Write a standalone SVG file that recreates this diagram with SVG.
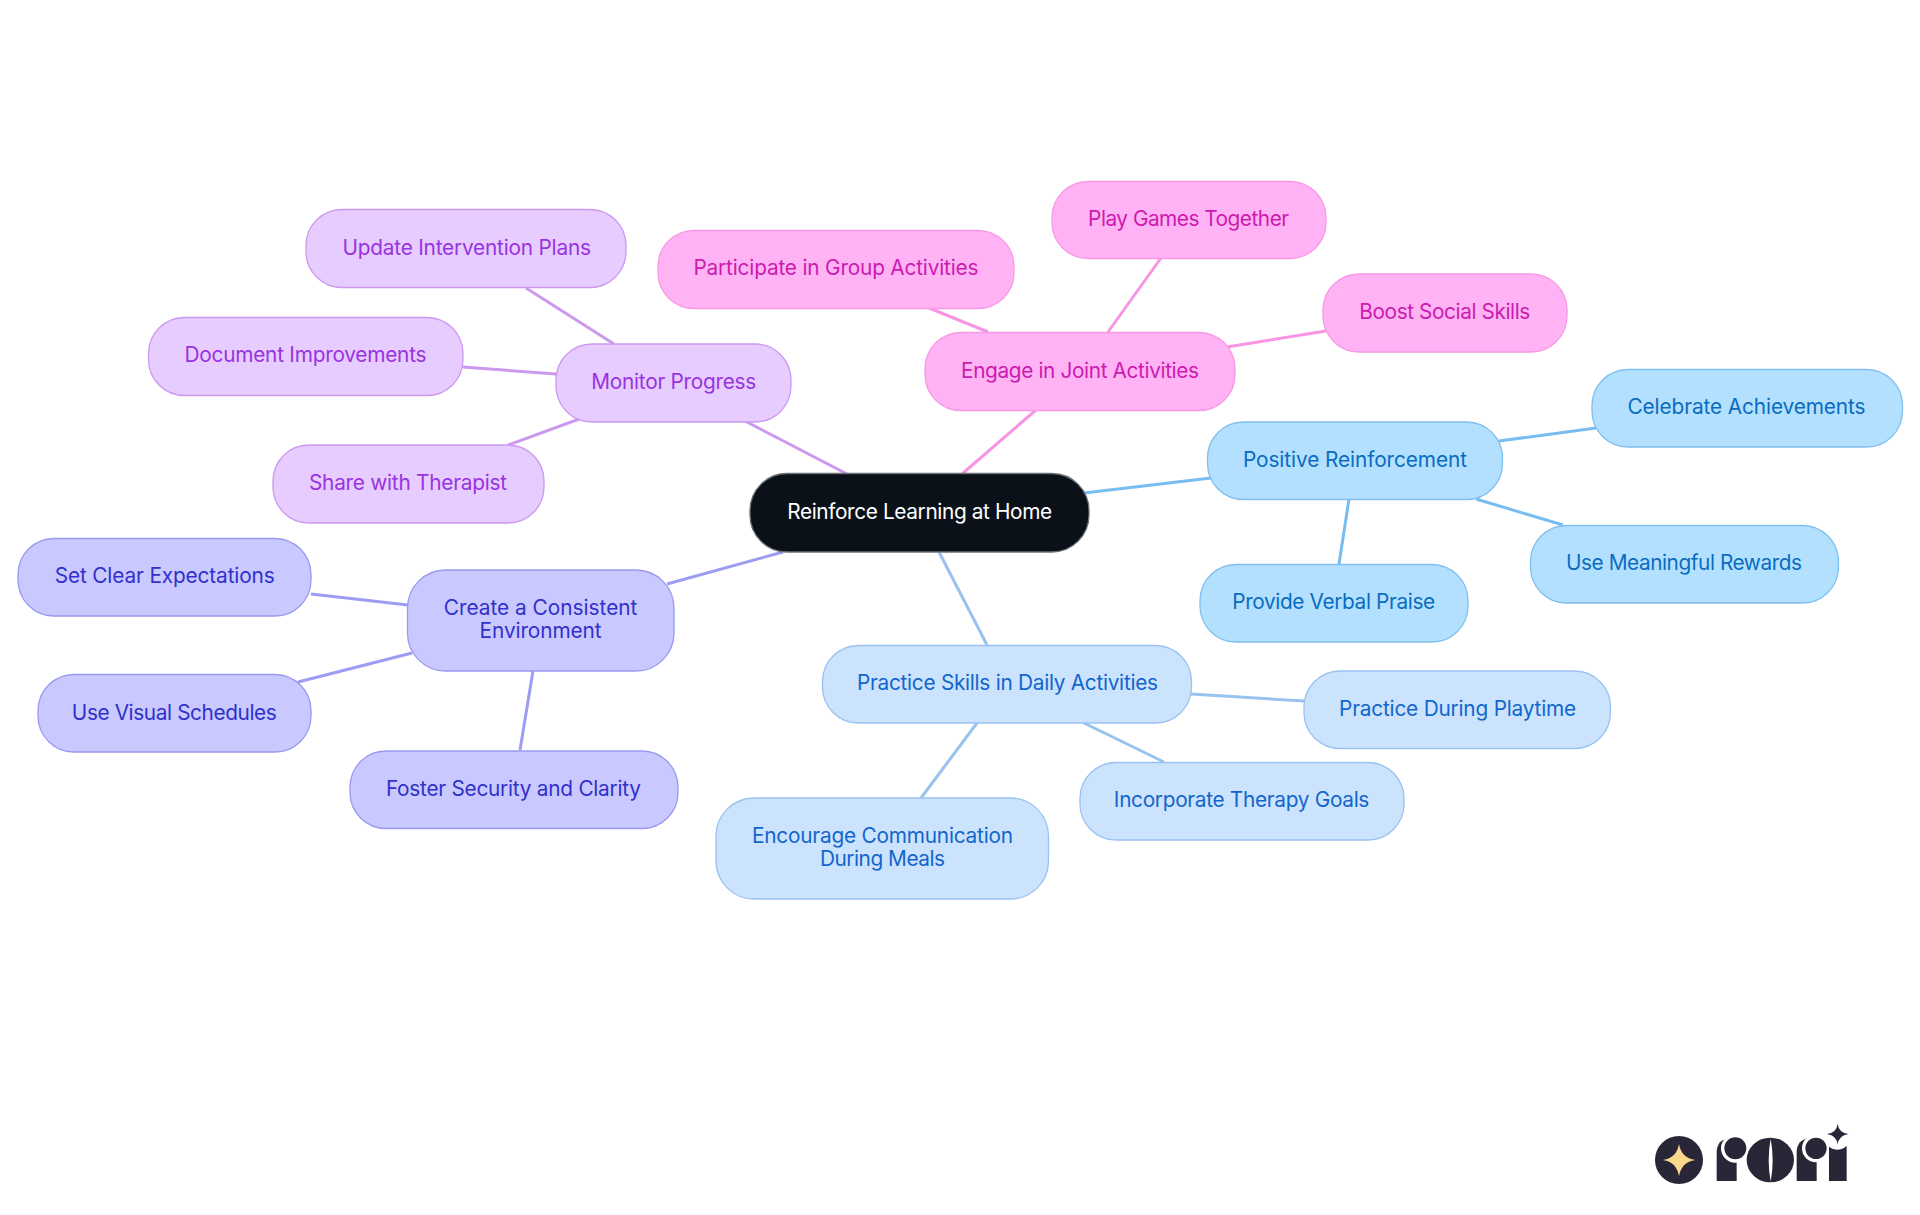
<svg xmlns="http://www.w3.org/2000/svg" width="1920" height="1215" viewBox="0 0 1920 1215">
<style>
text{font-family:"Inter","Liberation Sans",sans-serif;font-size:20.8px;text-anchor:middle}
rect{stroke-width:1.3}
#connectors line{stroke-width:3;fill:none}
.root rect{fill:#0b1119;stroke:#6d7278}.root text{fill:#fff}
.pur rect{fill:#e6ccff;stroke:#cc99ee}.pur text{fill:#9933e0}
.pnk rect{fill:#ffb3f5;stroke:#f799e6}.pnk text{fill:#cc1ab0}
.sky rect{fill:#b3e0ff;stroke:#80bfee}.sky text{fill:#0a6cbf}
.blu rect{fill:#cce3fd;stroke:#99c2f0}.blu text{fill:#1166cc}
.ind rect{fill:#c9c9ff;stroke:#9999f0}.ind text{fill:#3030cc}
.lpur{stroke:#cc99ee}.lpnk{stroke:#f794e4}.lsky{stroke:#78bcf0}.lblu{stroke:#99c2f0}.lind{stroke:#9c9cf2}
</style>
<rect width="1920" height="1215" fill="#fff" style="stroke:none"/>
<g id="connectors">
<line class="lpur" x1="847" y1="474" x2="745" y2="421"/>
<line class="lpur" x1="614" y1="344" x2="526" y2="288"/>
<line class="lpur" x1="556" y1="374" x2="463" y2="367"/>
<line class="lpur" x1="582" y1="418" x2="508" y2="445"/>
<line class="lpnk" x1="962" y1="474" x2="1036" y2="410"/>
<line class="lpnk" x1="988" y1="332" x2="929" y2="308"/>
<line class="lpnk" x1="1108" y1="332" x2="1161" y2="258"/>
<line class="lpnk" x1="1227" y1="347" x2="1326" y2="331"/>
<line class="lsky" x1="1084" y1="493" x2="1211" y2="478"/>
<line class="lsky" x1="1499" y1="441" x2="1596" y2="428"/>
<line class="lsky" x1="1476" y1="499" x2="1563" y2="525"/>
<line class="lsky" x1="1349" y1="499" x2="1339" y2="564"/>
<line class="lblu" x1="939" y1="552" x2="987" y2="645"/>
<line class="lblu" x1="1191" y1="694" x2="1304" y2="701"/>
<line class="lblu" x1="1084" y1="723" x2="1164" y2="762"/>
<line class="lblu" x1="977" y1="723" x2="921" y2="798"/>
<line class="lind" x1="783" y1="552" x2="667" y2="584"/>
<line class="lind" x1="408" y1="605" x2="311" y2="594"/>
<line class="lind" x1="412" y1="653" x2="298" y2="682"/>
<line class="lind" x1="533" y1="671" x2="520" y2="750"/>
</g>
<g id="root" class="root"><rect x="750" y="473.500" width="339" height="78.500" rx="37"/><text x="919.700" y="518.500" textLength="265">Reinforce Learning at Home</text></g>
<g id="monitor" class="pur"><rect x="556" y="344" width="235" height="78" rx="36"/><text x="673.800" y="388.500" textLength="165">Monitor Progress</text></g>
<g id="update" class="pur"><rect x="306" y="209.500" width="320" height="78" rx="36"/><text x="466.700" y="254.500" textLength="248.500">Update Intervention Plans</text></g>
<g id="document" class="pur"><rect x="148.500" y="317.500" width="314.500" height="78" rx="36"/><text x="305.500" y="362" textLength="242">Document Improvements</text></g>
<g id="share" class="pur"><rect x="273" y="445" width="271" height="78" rx="36"/><text x="408" y="489.500" textLength="198">Share with Therapist</text></g>
<g id="engage" class="pnk"><rect x="925" y="332.500" width="310" height="78" rx="36"/><text x="1080" y="377.500" textLength="238">Engage in Joint Activities</text></g>
<g id="participate" class="pnk"><rect x="658" y="230.500" width="356" height="78" rx="36"/><text x="836" y="274.500" textLength="285">Participate in Group Activities</text></g>
<g id="play" class="pnk"><rect x="1052" y="181.500" width="274" height="77" rx="36"/><text x="1188.600" y="225.500" textLength="201">Play Games Together</text></g>
<g id="boost" class="pnk"><rect x="1323" y="274" width="244" height="78" rx="36"/><text x="1444.800" y="319" textLength="171">Boost Social Skills</text></g>
<g id="positive" class="sky"><rect x="1207.500" y="422" width="295" height="77.500" rx="36"/><text x="1355" y="466.500" textLength="224">Positive Reinforcement</text></g>
<g id="celebrate" class="sky"><rect x="1592" y="369.500" width="310.500" height="77.500" rx="36"/><text x="1746.500" y="413.500" textLength="238">Celebrate Achievements</text></g>
<g id="rewards" class="sky"><rect x="1530.500" y="525.500" width="308" height="77.500" rx="36"/><text x="1684" y="570" textLength="236">Use Meaningful Rewards</text></g>
<g id="praise" class="sky"><rect x="1200" y="564.500" width="268" height="77.500" rx="36"/><text x="1333.700" y="608.500" textLength="203">Provide Verbal Praise</text></g>
<g id="practice" class="blu"><rect x="822.500" y="645.500" width="369" height="77.500" rx="36"/><text x="1007.500" y="689.500" textLength="301">Practice Skills in Daily Activities</text></g>
<g id="playtime" class="blu"><rect x="1304" y="671" width="306.500" height="77.500" rx="36"/><text x="1457.600" y="715.500" textLength="237">Practice During Playtime</text></g>
<g id="therapy" class="blu"><rect x="1080" y="762.500" width="324" height="77.500" rx="36"/><text x="1241.600" y="806.500" textLength="255.500">Incorporate Therapy Goals</text></g>
<g id="meals" class="blu"><rect x="716" y="798" width="332.500" height="101" rx="38"/><text x="882.500" y="842.500" textLength="261">Encourage Communication</text><text x="882.500" y="865.500" textLength="125">During Meals</text></g>
<g id="consistent" class="ind"><rect x="407.500" y="570" width="266.500" height="101" rx="38"/><text x="540.600" y="614.500" textLength="193.500">Create a Consistent</text><text x="540.600" y="637.500" textLength="122">Environment</text></g>
<g id="expectations" class="ind"><rect x="18" y="538.500" width="293" height="77.500" rx="36"/><text x="164.700" y="582.500" textLength="220">Set Clear Expectations</text></g>
<g id="schedules" class="ind"><rect x="38" y="674.500" width="273" height="77.500" rx="36"/><text x="174.300" y="719.500" textLength="205">Use Visual Schedules</text></g>
<g id="foster" class="ind"><rect x="350" y="751" width="328" height="77.500" rx="36"/><text x="513.400" y="795.500" textLength="255">Foster Security and Clarity</text></g>
<g id="logo" transform="translate(1620 1100) scale(.33333)" fill="#282637">
<circle cx="177" cy="180" r="72"/>
<path d="M177 132Q184 174 226 180Q184 186 177 229Q170 186 129 180Q170 174 177 132Z" fill="#fcd88a"/>
<path d="M290 243V158Q290 118 330 114L350 180V243Z"/>
<circle cx="346" cy="145" r="43" fill="#fff"/><circle cx="346" cy="145" r="33"/>
<ellipse cx="451" cy="180" rx="71" ry="67"/>
<path d="M452 116Q464 180 452 245Q440 180 452 116Z" fill="#fff"/>
<path d="M530 243V158Q530 118 570 114L590 180V243Z"/>
<circle cx="588" cy="145" r="42" fill="#fff"/><circle cx="588" cy="145" r="32"/>
<path d="M627 243V140Q652 160 680 138V243Z"/>
<path d="M653 71Q656 98 685 102Q656 106 653 134Q650 106 621 102Q650 98 653 71Z"/>
</g>
</svg>
